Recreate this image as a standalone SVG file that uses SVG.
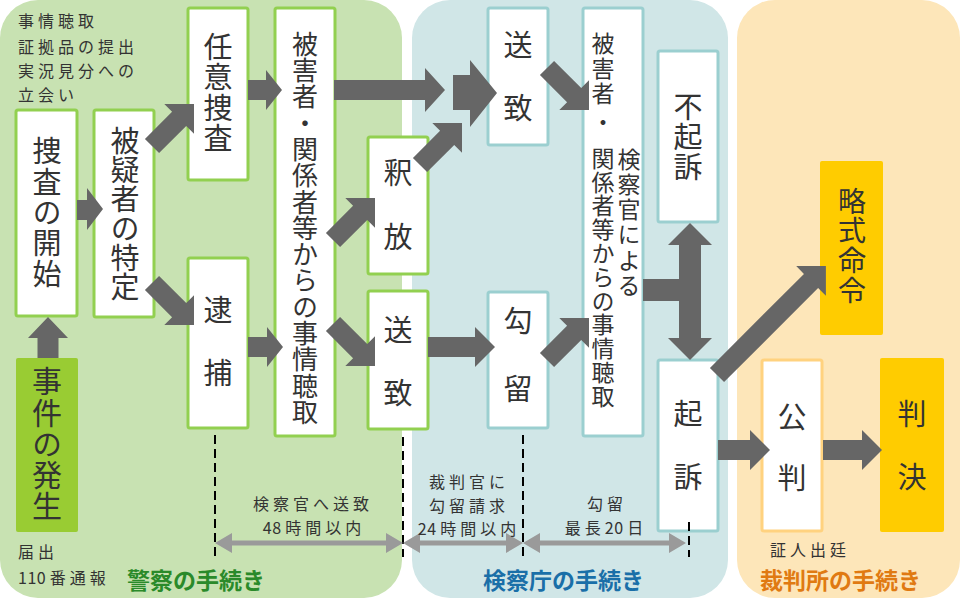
<svg xmlns="http://www.w3.org/2000/svg" width="960" height="600" viewBox="0 0 960 600">
<style>
.t{font-family:"Noto Sans CJK JP","Noto Sans",sans-serif;fill:#333;font-size:29px;writing-mode:vertical-rl;text-anchor:start;dominant-baseline:central}
.sm{font-family:"Noto Sans CJK JP","Noto Sans",sans-serif;font-size:16px;fill:#333;letter-spacing:4px;dominant-baseline:central}
.n{letter-spacing:0.5px}
.c{text-anchor:middle}
.lbl{font-family:"Noto Sans CJK JP","Noto Sans",sans-serif;font-size:23px;font-weight:bold;dominant-baseline:central}
.gb{fill:#fff;stroke:#92d050;stroke-width:3}
.bb{fill:#fff;stroke:#9bcfd0;stroke-width:3}
.ob{fill:#fff;stroke:#ffd27f;stroke-width:3}
.gold{fill:#ffcc00}
.arr{fill:#666}
.dash{stroke:#000;stroke-width:2;stroke-dasharray:9,5;fill:none}
.ga{fill:#9a9a9a}
</style>
<defs>
<polygon id="d59" points="0,-10 38.4,-10 38.4,-21 59.4,0 38.4,21 38.4,10 0,10"/>
</defs>
<g id="panels">
<rect x="0" y="0" width="402" height="598" rx="38" fill="#c8e2b2"/>
<rect x="412" y="0" width="316" height="598" rx="38" fill="#d0e6e7"/>
<rect x="737" y="0" width="223" height="598" rx="38" fill="#fde6b9"/>
</g>

<g id="n-jiken">
<rect x="16" y="358" width="62" height="174" rx="2" fill="#99cc33"/>
<text class="t" x="47" y="366" style="font-size:30px;letter-spacing:1.25px">事件の発生</text>
</g>
<g id="n-sousa-kaishi">
<rect class="gb" x="16" y="110" width="61" height="206" rx="2"/>
<text class="t" x="47" y="136.5" style="letter-spacing:1.75px">捜査の開始</text>
</g>
<g id="n-tokutei">
<rect class="gb" x="94" y="110" width="60" height="207" rx="2"/>
<text class="t" x="125" y="126.5" style="letter-spacing:0.2px">被疑者の特定</text>
</g>
<g id="n-nini">
<rect class="gb" x="188" y="8" width="60" height="172" rx="2"/>
<text class="t" x="218" y="32.5" style="letter-spacing:1.3px">任意捜査</text>
</g>
<g id="n-taiho">
<rect class="gb" x="188" y="258" width="60" height="170" rx="2"/>
<text class="t" x="218" y="295.5" style="letter-spacing:34px">逮捕</text>
</g>
<g id="n-jijou-police">
<rect class="gb" x="275" y="8" width="60" height="428" rx="2"/>
<text class="t" x="305" y="31" style="font-size:26px;letter-spacing:0.29px">被害者・関係者等からの事情聴取</text>
</g>
<g id="n-shakuhou">
<rect class="gb" x="368" y="137" width="60" height="137" rx="2"/>
<text class="t" x="398" y="158.5" style="letter-spacing:35px">釈放</text>
</g>
<g id="n-souchi-police">
<rect class="gb" x="368" y="291" width="60" height="138" rx="2"/>
<text class="t" x="398" y="315.5" style="letter-spacing:34px">送致</text>
</g>
<g id="n-souchi-prosecutor">
<rect class="bb" x="488" y="8" width="60" height="137" rx="2"/>
<text class="t" x="518" y="30.5" style="letter-spacing:34px">送致</text>
</g>
<g id="n-kouryuu">
<rect class="bb" x="488" y="292" width="60" height="136" rx="2"/>
<text class="t" x="518" y="306.5" style="letter-spacing:39px">勾留</text>
</g>
<g id="n-jijou-prosecutor">
<rect class="bb" x="583" y="8" width="60" height="428" rx="2"/>
<text class="t" x="603" y="31.5" style="font-size:23px;letter-spacing:2px">被害者</text>
<text class="t" x="603" y="110.5" style="font-size:23px">・</text>
<text class="t" x="603" y="146.5" style="font-size:23px;letter-spacing:0.8px">関係者等からの事情聴取</text>
<text class="t" x="629" y="147.5" style="font-size:23px;letter-spacing:2.2px">検察官による</text>
</g>
<g id="n-fukiso">
<rect class="bb" x="658" y="51" width="60" height="171" rx="2"/>
<text class="t" x="688" y="92.5" style="letter-spacing:1px">不起訴</text>
</g>
<g id="n-kiso">
<rect class="bb" x="658" y="360" width="60" height="171" rx="2"/>
<text class="t" x="688" y="399.5" style="letter-spacing:34px">起訴</text>
</g>
<g id="n-ryakushiki">
<rect class="gold" x="820" y="161" width="63" height="174" rx="2"/>
<text class="t" x="852" y="187" style="font-size:28px;letter-spacing:1.7px">略式命令</text>
</g>
<g id="n-kouhan">
<rect class="ob" x="762" y="360" width="60" height="171" rx="2"/>
<text class="t" x="792" y="402.5" style="letter-spacing:32px">公判</text>
</g>
<g id="n-hanketsu">
<rect class="gold" x="880" y="358" width="64" height="174" rx="2"/>
<text class="t" x="912" y="399.5" style="letter-spacing:34px">判決</text>
</g>

<g id="connectors" class="arr">
<polygon points="37.5,358 37.5,338 28,338 48,317 68,338 58.5,338 58.5,358"/>
<polygon points="77,200 87,200 87,188 103,209 87,230 87,220 77,220"/>
<use href="#d59" transform="translate(152,146) rotate(-45)"/>
<use href="#d59" transform="translate(152,283) rotate(45)"/>
<polygon points="248,80 266,80 266,70 282,90 266,110 266,100 248,100"/>
<polygon points="248,337 267,337 267,327 283,347 267,367 267,357 248,357"/>
<polygon points="334,80 425,80 425,68 445,90 425,112 425,100 334,100"/>
<use href="#d59" transform="translate(333,240) rotate(-45)"/>
<use href="#d59" transform="translate(333,324) rotate(45)"/>
<use href="#d59" transform="translate(420,165) rotate(-45)"/>
<polygon points="453,75 470,75 470,60 497,93 470,127 470,110 453,110"/>
<polygon points="428,337 475,337 475,327 495,347 475,367 475,357 428,357"/>
<use href="#d59" transform="translate(547,68) rotate(45)"/>
<use href="#d59" transform="translate(547,360) rotate(-45)"/>
<polygon points="643,279 679,279 679,245 668,245 690,223 712,245 701,245 701,338 712,338 690,360 668,338 679,338 679,301 643,301"/>
<g transform="translate(717,375) rotate(-45)"><polygon points="0,-10 133,-10 133,-21 154,0 133,21 133,10 0,10"/></g>
<polygon points="718,440 750,440 750,430 770,450 750,470 750,460 718,460"/>
<polygon points="823,440 862,440 862,430 882,450 862,470 862,460 823,460"/>
</g>

<g id="timeline">
<line class="dash" x1="215" y1="435" x2="215" y2="557"/>
<line class="dash" x1="403" y1="437" x2="403" y2="557"/>
<line class="dash" x1="523" y1="435" x2="523" y2="557"/>
<line class="dash" x1="689" y1="522" x2="689" y2="557"/>
<polygon class="ga" points="215,543 232,533 232,540.5 386,540.5 386,533 403,543 386,553 386,545.5 232,545.5 232,553"/>
<polygon class="ga" points="403,543 420,533 420,540.5 506,540.5 506,533 523,543 506,553 506,545.5 420,545.5 420,553"/>
<polygon class="ga" points="523,543 540,533 540,540.5 669,540.5 669,533 686,543 669,553 669,545.5 540,545.5 540,553"/>
</g>

<g id="notes">
<text class="sm" x="18" y="20">事情聴取</text>
<text class="sm" x="18" y="46">証拠品の提出</text>
<text class="sm" x="18" y="70">実況見分への</text>
<text class="sm" x="18" y="94">立会い</text>
<text class="sm" x="18" y="551">届出</text>
<text class="sm" x="18" y="577"><tspan class="n">11</tspan><tspan>0番通報</tspan></text>
<text class="sm" x="770" y="549">証人出廷</text>
<text class="sm c" x="313" y="503">検察官へ送致</text>
<text class="sm c" x="314" y="527"><tspan class="n">4</tspan><tspan>8時間以内</tspan></text>
<text class="sm c" x="469" y="481">裁判官に</text>
<text class="sm c" x="469" y="504.5">勾留請求</text>
<text class="sm c" x="469" y="528"><tspan class="n">2</tspan><tspan>4時間以内</tspan></text>
<text class="sm c" x="607" y="503">勾留</text>
<text class="sm c" x="606" y="527">最長<tspan class="n">2</tspan><tspan>0日</tspan></text>
<text class="lbl" x="127" y="579" fill="#2a8a2a">警察の手続き</text>
<text class="lbl" x="483" y="579" fill="#1a6fa8">検察庁の手続き</text>
<text class="lbl" x="760" y="579" fill="#e07a12">裁判所の手続き</text>
</g>
</svg>
